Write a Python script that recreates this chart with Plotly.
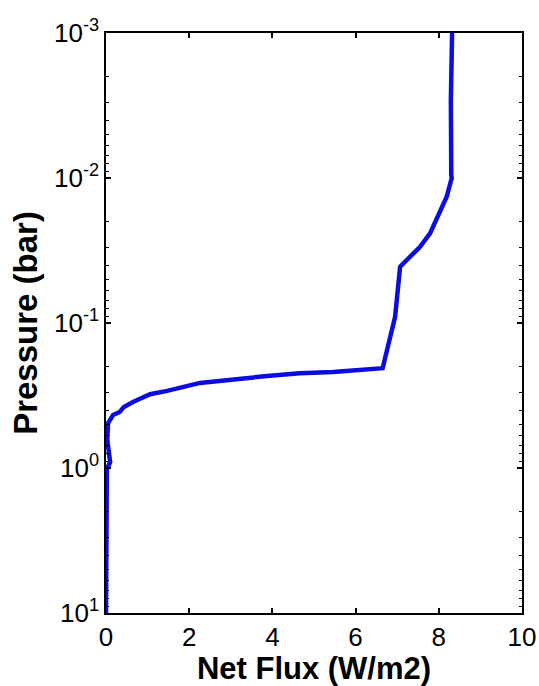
import plotly.graph_objects as go

# Data (net flux in W/m2, pressure in bar)
net_flux = [8.32, 8.29, 8.30, 8.31, 8.19, 7.95, 7.79, 7.55, 7.31, 7.07, 6.95, 6.71,
            6.65, 5.46, 4.66, 3.87, 3.06, 2.26, 1.47, 1.06, 0.66, 0.50, 0.43, 0.33,
            0.17, 0.05, 0.03, 0.10, 0.02, 0.00]
pressure = [0.001, 0.0029, 0.0095, 0.010, 0.01346, 0.0195, 0.0241, 0.0298, 0.0349,
            0.0409, 0.0905, 0.180, 0.205, 0.218, 0.222, 0.232, 0.244, 0.259, 0.294,
            0.310, 0.349, 0.368, 0.379, 0.411, 0.431, 0.49, 0.64, 0.91, 1.02, 10.0]

y_tickvals = [1e-3, 1e-2, 1e-1, 1e0, 1e1]
y_ticktext = ["10<sup>-3</sup>", "10<sup>-2</sup>", "10<sup>-1</sup>",
              "10<sup>0</sup>", "10<sup>1</sup>"]
x_tickvals = [0, 2, 4, 6, 8, 10]

fig = go.Figure()
fig.add_trace(go.Scatter(
    x=net_flux, y=pressure, mode="lines",
    line=dict(color="rgb(12,12,225)", width=4.5),
    showlegend=False,
))

font_family = "Liberation Sans, Arial, sans-serif"

fig.update_layout(
    width=539, height=686,
    margin=dict(l=106, r=17, t=33, b=73),
    paper_bgcolor="white", plot_bgcolor="white",
    font=dict(family=font_family, color="black"),
)
fig.update_xaxes(
    range=[0, 10], tickvals=x_tickvals, automargin=False,
    ticks="inside", ticklen=5, tickwidth=1.5, tickcolor="black",
    showline=True, linecolor="black", linewidth=1.5, mirror="ticks",
    showgrid=False, zeroline=False,
    tickfont=dict(size=26, family=font_family),
    title=dict(text="<b>Net Flux (W/m2)</b>", font=dict(size=31, family=font_family), standoff=4),
)
fig.update_yaxes(
    type="log", range=[1, -3], automargin=False,
    tickvals=y_tickvals, ticktext=y_ticktext,
    ticks="inside", ticklen=5, tickwidth=1.5, tickcolor="black",
    minor=dict(ticks="inside", dtick="D1", ticklen=3, tickwidth=1.2,
               tickcolor="black", showgrid=False),
    showline=True, linecolor="black", linewidth=1.5, mirror="ticks",
    showgrid=False, zeroline=False,
    tickfont=dict(size=26, family=font_family),
    title=dict(text="<b>Pressure (bar)</b>", font=dict(size=33, family=font_family), standoff=6),
)

# Remove the page's default body margin and scrollbars so the figure fills the window
fig.write_html(
    "out.html",
    config={"displayModeBar": False},
    post_script="document.body.style.margin='0';document.body.style.overflow='hidden';",
)
